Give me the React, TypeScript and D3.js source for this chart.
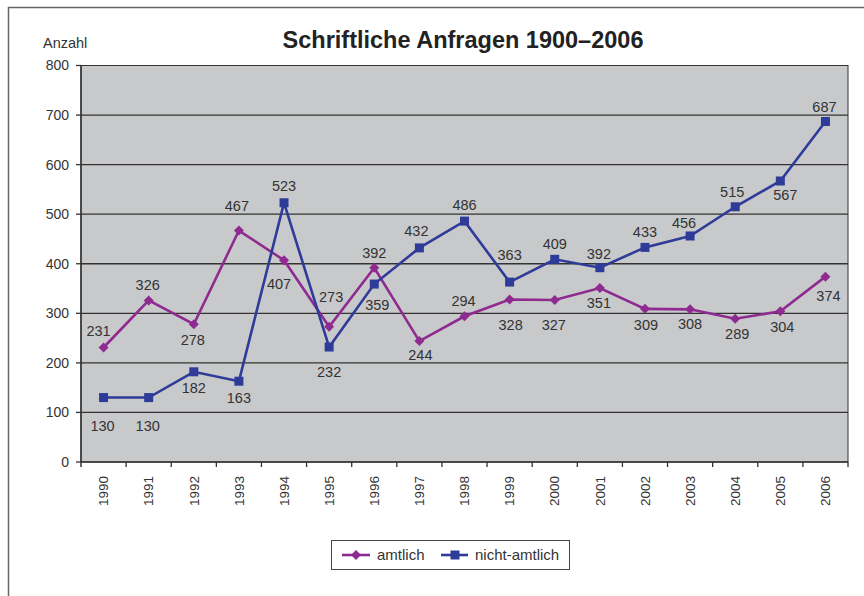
import React from 'react';
import * as d3 from 'd3';

const years = ['1990', '1991', '1992', '1993', '1994', '1995', '1996', '1997', '1998', '1999', '2000', '2001', '2002', '2003', '2004', '2005', '2006'];
const amtlich = [231, 326, 278, 467, 407, 273, 392, 244, 294, 328, 327, 351, 309, 308, 289, 304, 374];
const nichtAmtlich = [130, 130, 182, 163, 523, 232, 359, 432, 486, 363, 409, 392, 433, 456, 515, 567, 687];
const yTicks = [0, 100, 200, 300, 400, 500, 600, 700, 800];

// label offsets [dx, dy] relative to the point (label centre)
const amtlichLabelPos = [[-5, -17], [-1, -16], [-1, 16], [-2, -25], [-5, 24], [2, -30], [0, -15], [1, 14], [-1, -15], [1, 25], [-1, 25], [-1, 15], [1, 16], [0, 15], [2, 15], [2, 16], [3, 19]];
const nichtLabelPos = [[-1, 28], [-1, 28], [0, 16], [0, 17], [0, -17], [0, 25], [3, 21], [-3, -17], [0, -16], [0, -27], [0, -15], [-1, -14], [0, -15], [-6, -13], [-3, -15], [5, 14], [-1, -15]];

const purple = '#8e2a90';
const blue = '#2f3b98';
const textCol = '#333';
const font = '"Liberation Sans", Arial, sans-serif';

export default function App() {
  const left = 81, right = 848, top = 65.5, bottom = 462;

  const x = d3.scaleBand<string>().domain(years).range([left, right]);
  const y = d3.scaleLinear().domain([0, 800]).range([bottom, top]);
  const cx = (i: number) => (x(years[i]) as number) + x.bandwidth() / 2;

  const line = d3.line<number>().x((d, i) => cx(i)).y(d => y(d));

  const diamond = (px: number, py: number, r: number) =>
    `M${px},${py - r}L${px + r},${py}L${px},${py + r}L${px - r},${py}Z`;

  return (
    <svg width={864} height={596} style={{position: 'absolute', left: 0, top: 0}} fontFamily={font}>
      <rect x={0} y={0} width={864} height={596} fill="#fff" />
      <path d="M8.5,596V7.5H864" fill="none" stroke="#666" strokeWidth={1.5} />

      <text x={463} y={48} textAnchor="middle" fontSize={23.5} fontWeight="bold" fill="#222">Schriftliche Anfragen 1900–2006</text>
      <text x={43} y={48} fontSize={14.5} fill={textCol}>Anzahl</text>

      <rect x={left} y={top} width={right - left} height={bottom - top} fill="#c8c9cb" stroke="#333" strokeWidth={1} />

      {yTicks.map(t => (
        <g key={t}>
          {t > 0 && t < 800 && <line x1={left} x2={right} y1={y(t)} y2={y(t)} stroke="#333" strokeWidth={1.3} />}
          <line x1={left - 5} x2={left} y1={y(t)} y2={y(t)} stroke="#333" strokeWidth={1.3} />
          <text x={69} y={y(t)} dy="0.35em" textAnchor="end" fontSize={14} fill={textCol}>{t}</text>
        </g>
      ))}
      <line x1={left} x2={left} y1={top} y2={bottom + 5} stroke="#333" strokeWidth={1.5} />
      <line x1={left} x2={right} y1={bottom} y2={bottom} stroke="#333" strokeWidth={1.5} />

      {years.map((yr, i) => (
        <g key={yr}>
          <line x1={(x(yr) as number) + x.bandwidth()} x2={(x(yr) as number) + x.bandwidth()} y1={bottom} y2={bottom + 5} stroke="#333" strokeWidth={1.3} />
          <text transform={`translate(${cx(i)},476) rotate(-90)`} dy="0.35em" textAnchor="end" fontSize={13.5} fill={textCol}>{yr}</text>
        </g>
      ))}

      <path d={line(amtlich) || ''} fill="none" stroke={purple} strokeWidth={2.6} />
      <path d={line(nichtAmtlich) || ''} fill="none" stroke={blue} strokeWidth={2.6} />

      {amtlich.map((v, i) => (
        <path key={'a' + i} d={diamond(cx(i), y(v), 5)} fill={purple} />
      ))}
      {nichtAmtlich.map((v, i) => (
        <rect key={'n' + i} x={cx(i) - 4.5} y={y(v) - 4.5} width={9} height={9} fill={blue} />
      ))}

      {amtlich.map((v, i) => (
        <text key={'al' + i} x={cx(i) + amtlichLabelPos[i][0]} y={y(v) + amtlichLabelPos[i][1]} dy="0.35em" textAnchor="middle" fontSize={14.5} fill={textCol}>{v}</text>
      ))}
      {nichtAmtlich.map((v, i) => (
        <text key={'nl' + i} x={cx(i) + nichtLabelPos[i][0]} y={y(v) + nichtLabelPos[i][1]} dy="0.35em" textAnchor="middle" fontSize={14.5} fill={textCol}>{v}</text>
      ))}

      <rect x={331.5} y={540.5} width={238} height={29} fill="#fff" stroke="#444" strokeWidth={1} />
      <line x1={342} x2={370} y1={555} y2={555} stroke={purple} strokeWidth={2.6} />
      <path d={diamond(356, 555, 5)} fill={purple} />
      <text x={377} y={555} dy="0.35em" fontSize={15} fill={textCol}>amtlich</text>
      <line x1={441} x2={468} y1={555} y2={555} stroke={blue} strokeWidth={2.6} />
      <rect x={450.5} y={550.5} width={9} height={9} fill={blue} />
      <text x={475} y={555} dy="0.35em" fontSize={15} fill={textCol}>nicht-amtlich</text>
    </svg>
  );
}
